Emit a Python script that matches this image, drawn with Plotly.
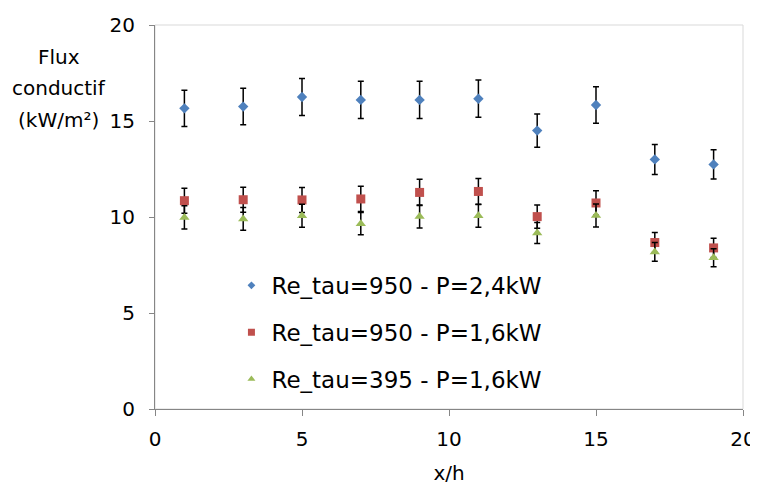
import plotly.graph_objects as go

x_vals = [1, 3, 5, 7, 9, 11, 13, 15, 17, 19]

names = ["Re_tau=950 - P=2,4kW", "Re_tau=950 - P=1,6kW", "Re_tau=395 - P=1,6kW"]

flux_950_24 = [15.66, 15.75, 16.25, 16.1, 16.1, 16.16, 14.5, 15.83, 13.0, 12.74]
err_950_24 = [0.94, 0.95, 0.97, 0.97, 0.97, 0.97, 0.87, 0.95, 0.78, 0.76]

flux_950_16 = [10.85, 10.9, 10.89, 10.94, 11.28, 11.33, 10.02, 10.73, 8.67, 8.39]
err_950_16 = [0.65, 0.65, 0.65, 0.66, 0.68, 0.68, 0.6, 0.64, 0.52, 0.5]

flux_395_16 = [9.98, 9.9, 10.07, 9.65, 10.03, 10.07, 9.17, 10.08, 8.18, 7.88]
err_395_16 = [0.6, 0.59, 0.6, 0.58, 0.6, 0.6, 0.55, 0.6, 0.49, 0.47]

x_ticks = [0, 5, 10, 15, 20]
y_ticks = [0, 5, 10, 15, 20]

y_title_lines = ["Flux", "conductif", "(kW/m²)"]

FONT = "DejaVu Sans"

series = [
    (flux_950_24, err_950_24, "#4F81BD", "diamond", 8, 6),
    (flux_950_16, err_950_16, "#C0504D", "square", 9, 7),
    (flux_395_16, err_395_16, "#9BBB59", "triangle-up", 9, 7),
]

fig = go.Figure()
for i, (ys, es, col, sym, sz, lsz) in enumerate(series):
    fig.add_trace(go.Scatter(
        x=x_vals, y=ys, mode="markers", name=names[i], showlegend=False,
        marker=dict(color=col, symbol=sym, size=sz),
        error_y=dict(type="data", array=es, visible=True, color="black",
                     thickness=1.5, width=3),
    ))
for i, (ys, es, col, sym, sz, lsz) in enumerate(series):
    fig.add_trace(go.Scatter(
        x=[None], y=[None], mode="markers", name=names[i],
        legendgroup=f"g{i}", showlegend=True,
        marker=dict(color=col, symbol=sym, size=lsz),
    ))

fig.add_shape(type="rect", xref="paper", yref="paper", x0=0, y0=0, x1=1, y1=1,
              line=dict(color="#D9D9D9", width=1), layer="below")

fig.update_layout(
    width=750, height=478,
    margin=dict(l=147, r=15, t=17, b=77, autoexpand=False),
    paper_bgcolor="white", plot_bgcolor="white",
    font=dict(family=FONT, size=19, color="black"),
    showlegend=True,
    legend=dict(x=0.13, y=0.378, xanchor="left", yanchor="top",
                bgcolor="rgba(0,0,0,0)", traceorder="grouped",
                tracegroupgap=14, font=dict(size=23, family=FONT),
                itemwidth=30),
    xaxis=dict(range=[0, 20], tickvals=x_ticks, showgrid=False, zeroline=False,
               showline=True, linecolor="#868686", linewidth=1,
               ticks="outside", ticklen=6, tickcolor="#868686",
               ticklabelstandoff=6, tickfont=dict(size=20), automargin=False,
               title=dict(text="x/h", font=dict(size=20), standoff=15)),
    yaxis=dict(range=[0, 20], tickvals=y_ticks, showgrid=False, zeroline=False,
               showline=True, linecolor="#868686", linewidth=1,
               ticks="outside", ticklen=5, tickcolor="#868686",
               ticklabelstandoff=10, tickfont=dict(size=20), automargin=False),
)

title_y = [0.9167, 0.836, 0.7526]
for txt, yy in zip(y_title_lines, title_y):
    fig.add_annotation(text=txt, xref="paper", yref="paper",
                       x=-0.1638, y=yy, xanchor="center", yanchor="middle",
                       showarrow=False, font=dict(size=20, family=FONT))

fig.write_html("out.html")
